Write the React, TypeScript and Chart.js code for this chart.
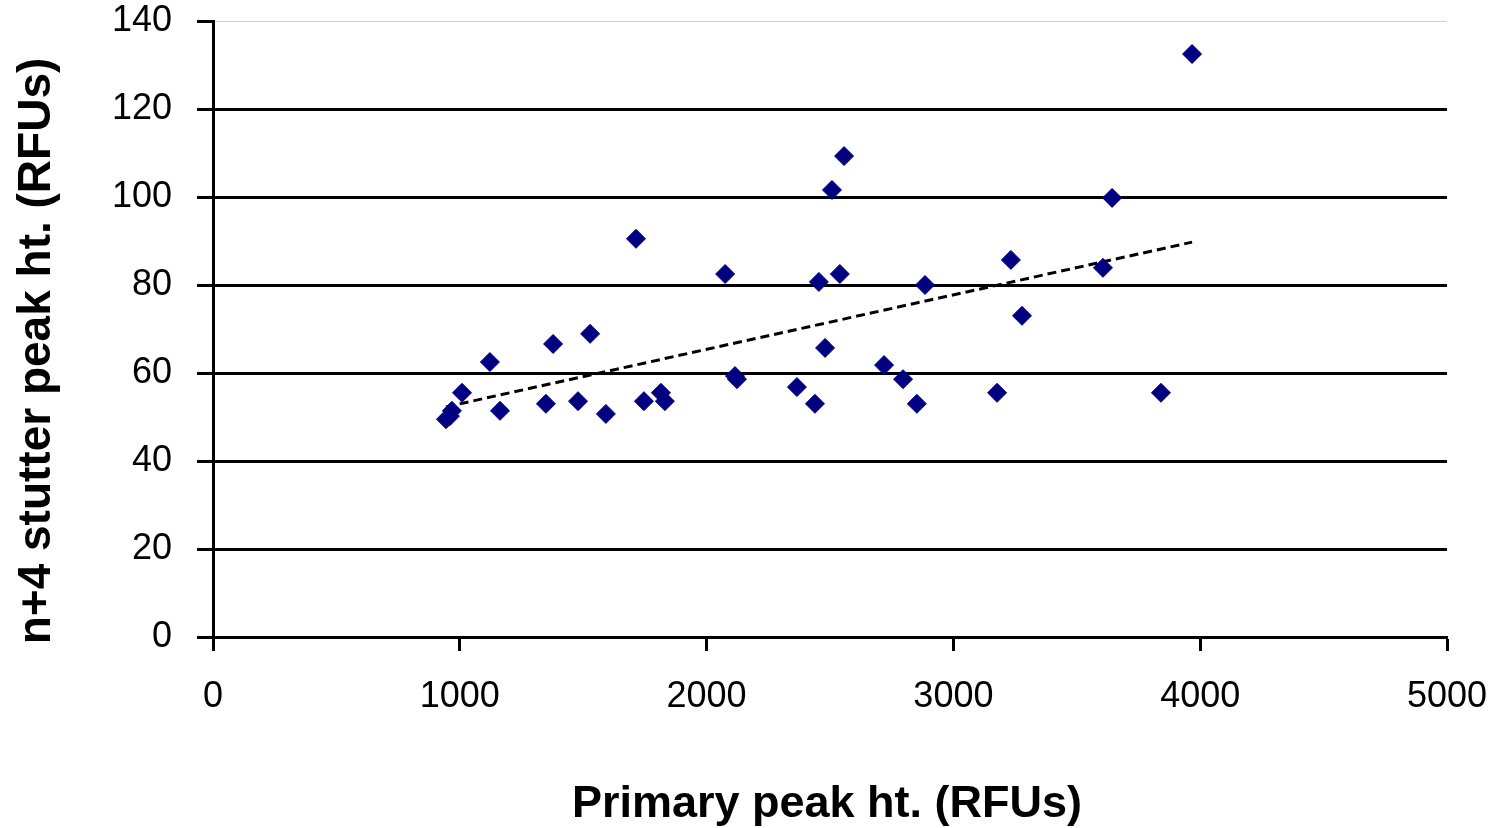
import React, { useEffect, useRef } from "react";
import { Chart, registerables } from "chart.js";

Chart.register(...registerables);

const primaryPeak: number[] = [
  944, 960, 968, 1009, 1122, 1163, 1349, 1378, 1479, 1528, 1592, 1714, 1746, 1815, 1831,
  2075, 2115, 2123, 2366, 2439, 2455, 2480, 2508, 2540, 2557, 2719, 2796, 2852, 2885,
  3177, 3233, 3278, 3606, 3643, 3841, 3967,
];
const stutterPeak: number[] = [
  49.5, 50.2, 51.4, 55.5, 62.5, 51.4, 53.0, 66.6, 53.6, 68.9, 50.7, 90.5, 53.6, 55.5, 53.6,
  82.5, 59.3, 58.6, 56.8, 53.0, 80.7, 65.7, 101.6, 82.5, 109.3, 61.8, 58.6, 53.0, 80.0,
  55.5, 85.7, 73.0, 83.9, 99.8, 55.5, 132.5,
];
const xTicks: number[] = [0, 1000, 2000, 3000, 4000, 5000];
const yTicks: number[] = [0, 20, 40, 60, 80, 100, 120, 140];
const xTitle = "Primary peak ht. (RFUs)";
const yTitle = "n+4 stutter peak ht. (RFUs)";

const FONT = "'Liberation Sans', Arial, Helvetica, sans-serif";

function trendLine(xs: number[], ys: number[]) {
  const n = xs.length;
  const mx = xs.reduce((a, b) => a + b, 0) / n;
  const my = ys.reduce((a, b) => a + b, 0) / n;
  let sxy = 0, sxx = 0;
  for (let i = 0; i < n; i++) {
    sxy += (xs[i] - mx) * (ys[i] - my);
    sxx += (xs[i] - mx) * (xs[i] - mx);
  }
  const slope = sxy / sxx;
  const icpt = my - slope * mx;
  const x0 = Math.min(...xs);
  const x1 = Math.max(...xs);
  return [
    { x: x0, y: icpt + slope * x0 },
    { x: x1, y: icpt + slope * x1 },
  ];
}

const titlesPlugin = {
  id: "axisTitles",
  afterDraw(chart: any) {
    const ctx = chart.ctx as CanvasRenderingContext2D;
    const area = chart.chartArea;
    ctx.save();
    ctx.fillStyle = "#000";
    ctx.font = `bold 45px ${FONT}`;
    ctx.textBaseline = "alphabetic";
    ctx.textAlign = "center";
    ctx.fillText(xTitle, (area.left + area.right) / 2 - 3, 817);
    ctx.translate(50, (area.top + area.bottom) / 2 + 22);
    ctx.rotate(-Math.PI / 2);
    ctx.font = `bold 46px ${FONT}`;
    ctx.fillText(yTitle, 0, 0);
    ctx.restore();
  },
};

export default function App() {
  const ref = useRef<HTMLCanvasElement>(null);
  useEffect(() => {
    document.body.style.margin = "0";
    const ctx = ref.current!;
    const points = primaryPeak.map((x, i) => ({ x, y: stutterPeak[i] }));
    const chart = new Chart(ctx, {
      type: "scatter",
      data: {
        datasets: [
          {
            type: "line",
            data: trendLine(primaryPeak, stutterPeak),
            borderColor: "#000000",
            borderWidth: 3,
            borderDash: [9, 5],
            pointRadius: 0,
            fill: false,
            order: 1,
          } as any,
          {
            data: points,
            pointStyle: "rectRot",
            pointRadius: 9.5,
            backgroundColor: "#000080",
            borderColor: "#000080",
            borderWidth: 1,
            order: 0,
          },
        ],
      },
      plugins: [titlesPlugin],
      options: {
        animation: false,
        responsive: false,
        maintainAspectRatio: false,
        layout: { padding: { top: 21, right: 42, left: 0, bottom: 0 } },
        plugins: { legend: { display: false }, tooltip: { enabled: false } },
        scales: {
          x: {
            type: "linear",
            min: 0,
            max: 5000,
            afterBuildTicks: (s: any) => {
              s.ticks = xTicks.map((v) => ({ value: v }));
            },
            afterFit: (s: any) => {
              s.height = 191;
              s.paddingLeft = 0;
              s.paddingRight = 0;
            },
            ticks: {
              color: "#000",
              font: { family: FONT, size: 36 },
              padding: 24,
              maxRotation: 0,
              callback: (v: any) => String(v),
            },
            grid: {
              drawOnChartArea: false,
              drawTicks: true,
              tickLength: 14,
              tickWidth: 3,
              tickColor: "#000",
            },
            border: { display: true, color: "#000", width: 3 },
            title: { display: false },
          },
          y: {
            type: "linear",
            min: 0,
            max: 140,
            afterBuildTicks: (s: any) => {
              s.ticks = yTicks.map((v) => ({ value: v }));
            },
            afterFit: (s: any) => {
              s.width = 213;
              s.paddingTop = 0;
              s.paddingBottom = 0;
            },
            ticks: {
              color: "#000",
              font: { family: FONT, size: 36 },
              padding: 25,
              callback: (v: any) => String(v),
            },
            grid: {
              drawOnChartArea: true,
              drawTicks: true,
              tickLength: 16,
              color: (c: any) => (c.tick && c.tick.value === 140 ? "#d0d0d0" : "#000"),
              lineWidth: (c: any) => (c.tick && c.tick.value === 140 ? 1 : 3),
              tickColor: "#000",
              tickWidth: 3,
            },
            border: { display: true, color: "#000", width: 3 },
            title: { display: false },
          },
        },
      },
    });
    return () => chart.destroy();
  }, []);
  return (
    <div style={{ position: "absolute", left: 0, top: 0, width: 1489, height: 828 }}>
      <canvas ref={ref} width={1489} height={828} style={{ width: 1489, height: 828 }} />
    </div>
  );
}
